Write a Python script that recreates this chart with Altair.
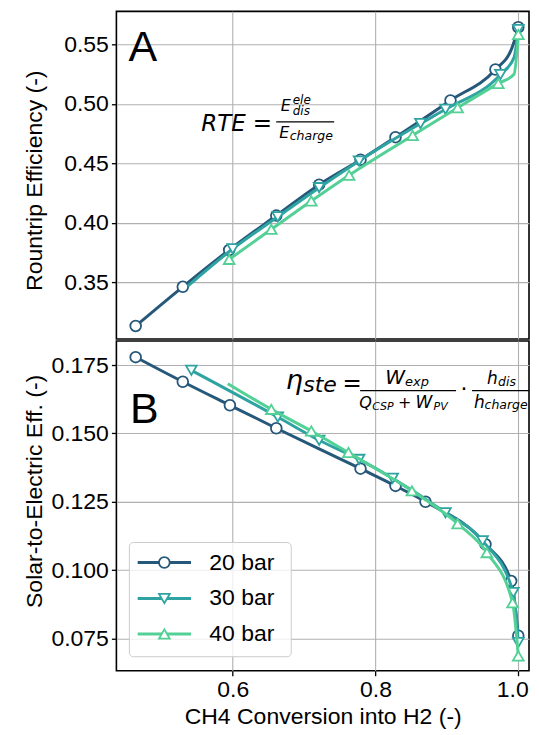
import altair as alt
import pandas as pd

# ---------------- data ----------------
series_names = ["20 bar", "30 bar", "40 bar"]
series_colors = ["#26587a", "#2ea3a2", "#52d096"]
series_shapes = ["circle", "triangle-down", "triangle-up"]

# Panel A: Roundtrip efficiency (markers)
a20_x = [0.464, 0.530, 0.595, 0.661, 0.721, 0.779, 0.828, 0.905, 0.968, 1.0]
a20_y = [0.313, 0.346, 0.377, 0.406, 0.432, 0.453, 0.472, 0.503, 0.529, 0.5646]
a30_x = [0.600, 0.663, 0.721, 0.777, 0.863, 0.898, 0.975, 1.0]
a30_y = [0.378, 0.405, 0.4295, 0.452, 0.4835, 0.4955, 0.5248, 0.5627]
a40_x = [0.595, 0.654, 0.710, 0.763, 0.852, 0.915, 0.972, 1.0]
a40_y = [0.3691, 0.3944, 0.4183, 0.440, 0.4735, 0.4968, 0.5173, 0.5585]
# extra line-only points (line continues where no marker is drawn)
a20_line_x = [0.991]
a20_line_y = [0.547]
a30_line_x = [0.537, 0.994]
a30_line_y = [0.3466, 0.539]
a40_line_x = [0.994]
a40_line_y = [0.525]

# Panel B: Solar-to-electric efficiency (markers)
b20_x = [0.464, 0.530, 0.596, 0.661, 0.779, 0.828, 0.870, 0.954, 0.990, 1.0]
b20_y = [0.1779, 0.1689, 0.1603, 0.1519, 0.1371, 0.1308, 0.125, 0.1095, 0.0960, 0.0760]
b30_x = [0.542, 0.663, 0.721, 0.777, 0.824, 0.898, 0.950, 0.993, 1.0]
b30_y = [0.1731, 0.156, 0.1475, 0.1405, 0.1336, 0.1210, 0.1107, 0.0918, 0.0735]
b40_x = [0.654, 0.710, 0.762, 0.851, 0.915, 0.956, 0.992, 1.0]
b40_y = [0.1588, 0.1509, 0.1430, 0.1290, 0.1170, 0.1064, 0.0881, 0.0686]
b20_line_x, b20_line_y = [], []
b30_line_x, b30_line_y = [], []
b40_line_x = [0.593]
b40_line_y = [0.1682]

x_ticks = [0.6, 0.8, 1.0]
a_ticks = [0.35, 0.40, 0.45, 0.50, 0.55]
b_ticks = [0.075, 0.100, 0.125, 0.150, 0.175]

X_DOMAIN = [0.437, 1.015]
A_DOMAIN = [0.302, 0.578]
B_DOMAIN = [0.0632, 0.1838]

W = 413
HA = 328
HB = 330
TXT = "Liberation Sans"
MATH = "DejaVu Sans"
FS = 23

ONE = pd.DataFrame({"k": [0]})


def series_layers(mx, my, lx, ly, color, shape, yscale):
    pts = pd.DataFrame({"x": mx, "y": my})
    line = pd.DataFrame({"x": list(mx) + list(lx), "y": list(my) + list(ly)}).sort_values("x")
    xe = alt.X("x:Q", scale=alt.Scale(domain=X_DOMAIN, nice=False, zero=False))
    ye = alt.Y("y:Q", scale=yscale)
    l = alt.Chart(line).mark_line(color=color, strokeWidth=3, interpolate="monotone").encode(x=xe, y=ye)
    p = alt.Chart(pts).mark_point(shape=shape, filled=True, fill="white", stroke=color,
                                  strokeWidth=1.8, size=115, opacity=1).encode(x=xe, y=ye)
    return [l, p]


def label(txt, x, y, size, style="normal", font=MATH, align="left", baseline="alphabetic"):
    return alt.Chart(ONE).mark_text(text=txt, fontSize=size, fontStyle=style, font=font,
                                    align=align, baseline=baseline, color="black").encode(
        x=alt.value(x), y=alt.value(y))


def hbar(x1, x2, y):
    return alt.Chart(ONE).mark_rule(color="black", strokeWidth=1.2).encode(
        x=alt.value(x1), x2=alt.value(x2), y=alt.value(y))


# ---------------- panel A ----------------
a_scale = alt.Scale(domain=A_DOMAIN, nice=False, zero=False)
a_axis_x = alt.X("x:Q", scale=alt.Scale(domain=X_DOMAIN, nice=False, zero=False),
                 axis=alt.Axis(values=x_ticks, labels=False, ticks=False, title=None, grid=True))
a_axis_y = alt.Y("y:Q", scale=a_scale,
                 axis=alt.Axis(values=a_ticks, format=".2f", title="Rountrip Efficiency (-)",
                               titleX=-82, titleY=HA / 2 + 5, titleAngle=270,
                               titleAlign="center", titleBaseline="middle"))

a_layers = []
base_a = alt.Chart(pd.DataFrame({"x": a20_x, "y": a20_y})).mark_point(opacity=0).encode(x=a_axis_x, y=a_axis_y)
a_layers.append(base_a)
for mx, my, lx, ly, c, s in [
    (a20_x, a20_y, a20_line_x, a20_line_y, series_colors[0], series_shapes[0]),
    (a30_x, a30_y, a30_line_x, a30_line_y, series_colors[1], series_shapes[1]),
    (a40_x, a40_y, a40_line_x, a40_line_y, series_colors[2], series_shapes[2]),
]:
    a_layers += series_layers(mx, my, lx, ly, c, s, a_scale)

a_layers += [
    label("A", 12, 50, 43, font=TXT),
    label("RTE", 85, 120, 23, style="italic"),
    label("=", 146, 120, 23, align="center"),
    hbar(160, 218, 110.7),
    label("E", 164.5, 99.7, 16, style="italic"),
    label("ele", 176.5, 92.5, 12, style="italic"),
    label("dis", 176.5, 103.5, 12, style="italic"),
    label("E", 163, 126.3, 16, style="italic"),
    label("charge", 173.5, 128.5, 12.5, style="italic"),
]

panel_a = alt.layer(*a_layers).properties(width=W, height=HA)

# ---------------- panel B ----------------
b_scale = alt.Scale(domain=B_DOMAIN, nice=False, zero=False)
b_axis_x = alt.X("x:Q", scale=alt.Scale(domain=X_DOMAIN, nice=False, zero=False),
                 axis=alt.Axis(values=x_ticks, format=".1f", title="CH4 Conversion into H2 (-)", grid=True,
                               labelFlush=12, labelFlushOffset=10))
b_axis_y = alt.Y("y:Q", scale=b_scale,
                 axis=alt.Axis(values=b_ticks, format=".3f", title="Solar-to-Electric Eff. (-)",
                               titleX=-82, titleY=HB / 2 - 15, titleAngle=270,
                               titleAlign="center", titleBaseline="middle"))

b_layers = []
base_b = alt.Chart(pd.DataFrame({"x": b20_x, "y": b20_y})).mark_point(opacity=0).encode(x=b_axis_x, y=b_axis_y)
b_layers.append(base_b)
for mx, my, lx, ly, c, s in [
    (b20_x, b20_y, b20_line_x, b20_line_y, series_colors[0], series_shapes[0]),
    (b30_x, b30_y, b30_line_x, b30_line_y, series_colors[1], series_shapes[1]),
    (b40_x, b40_y, b40_line_x, b40_line_y, series_colors[2], series_shapes[2]),
]:
    b_layers += series_layers(mx, my, lx, ly, c, s, b_scale)

b_layers += [
    label("B", 13.5, 82, 43, font=TXT),
    # eta_ste = W_exp / (Q_CSP + W_PV) . h_dis / h_charge
    label("\u03b7", 169.5, 48.5, 27, style="italic"),
    label("ste", 187, 51.5, 22, style="italic"),
    label("=", 236, 50, 23, align="center"),
    hbar(244, 340, 49.6),
    label("W", 269, 43.3, 20, style="italic"),
    label("exp", 289, 45.5, 13, style="italic"),
    label("Q", 243, 66.7, 16, style="italic"),
    label("CSP", 256, 69.3, 11, style="italic"),
    label("+", 288.5, 66.7, 16, align="center"),
    label("W", 299.5, 66.7, 17, style="italic"),
    label("PV", 317.5, 69.3, 11, style="italic"),
    label("\u00b7", 348, 55, 22, align="center"),
    hbar(356, 413, 49.6),
    label("h", 371, 43.3, 17, style="italic"),
    label("dis", 382, 45.5, 12.5, style="italic"),
    label("h", 358, 66.7, 17, style="italic"),
    label("charge", 368.5, 68.5, 12.5, style="italic"),
]

# legend box
b_layers.append(
    alt.Chart(ONE).mark_rect(fill="white", fillOpacity=0.8, stroke="#cccccc", strokeWidth=1,
                             cornerRadius=4).encode(
        x=alt.value(13), x2=alt.value(175), y=alt.value(201.7), y2=alt.value(316))
)
legend_rows = [221.7, 257.7, 293.3]
for name, c, s, yy in zip(series_names, series_colors, series_shapes, legend_rows):
    b_layers.append(alt.Chart(ONE).mark_rule(color=c, strokeWidth=3).encode(
        x=alt.value(21.3), x2=alt.value(74.7), y=alt.value(yy)))
    b_layers.append(alt.Chart(ONE).mark_point(shape=s, filled=True, fill="white", stroke=c,
                                              strokeWidth=1.8, size=115, opacity=1).encode(
        x=alt.value(48), y=alt.value(yy)))
    b_layers.append(label(name, 93, yy, 23, font=TXT, baseline="middle"))

panel_b = alt.layer(*b_layers).properties(width=W, height=HB)

chart = alt.vconcat(panel_a, panel_b, spacing=0).resolve_scale(
    x="shared", y="independent"
).properties(
    padding={"left": 14.5, "top": 2, "right": 0, "bottom": 0}
).configure_view(
    stroke="black", strokeWidth=1.6
).configure_axis(
    labelFont=TXT, labelFontSize=FS, labelColor="black",
    titleFont=TXT, titleFontSize=FS, titleColor="black", titleFontWeight="normal",
    tickColor="black", tickSize=5, tickWidth=1.3,
    gridColor="#b0b0b0", gridWidth=1.1, gridOpacity=1,
    domain=False, labelPadding=3,
)

chart.save("out.html", embed_options={"renderer": "svg", "actions": False})
